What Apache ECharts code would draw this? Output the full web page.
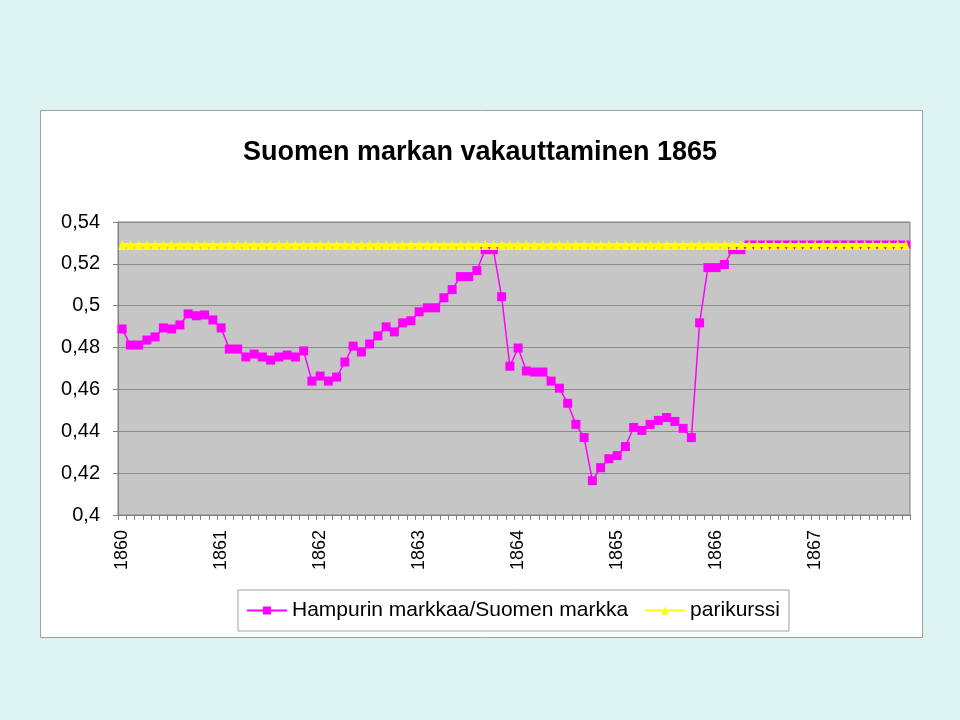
<!DOCTYPE html>
<html>
<head>
<meta charset="utf-8">
<script src="https://cdn.jsdelivr.net/npm/echarts@6/dist/echarts.min.js"></script>
<style>
html,body{margin:0;padding:0;background:#DDF3F0;}
#c{width:960px;height:720px;}
</style>
</head>
<body>
<div id="c"></div>
<script>
var years = ['1860','1861','1862','1863','1864','1865','1866','1867'];
var monthsPerYear = 12;

var hampuri = [
  0.4889,0.4812,0.4812,0.4836,0.4851,0.4894,0.4889,0.4908,0.4961,0.4952,0.4956,0.4932,
  0.4894,0.4793,0.4793,0.4755,0.4769,0.4755,0.4740,0.4755,0.4764,0.4755,0.4784,0.4640,
  0.4664,0.4640,0.4659,0.4731,0.4807,0.4779,0.4817,0.4856,0.4899,0.4875,0.4918,0.4928,
  0.4971,0.4990,0.4990,0.5038,0.5077,0.5139,0.5139,0.5168,0.5268,0.5268,0.5043,0.4711,
  0.4798,0.4688,0.4683,0.4683,0.4640,0.4606,0.4534,0.4433,0.4370,0.4164,0.4226,0.4269,
  0.4284,0.4327,0.4418,0.4404,0.4433,0.4452,0.4466,0.4447,0.4414,0.4370,0.4918,0.5182,
  0.5182,0.5197,0.5268,0.5268,0.529,0.529,0.529,0.529,0.529,0.529,0.529,0.529,
  0.529,0.529,0.529,0.529,0.529,0.529,0.529,0.529,0.529,0.529,0.529,0.529
];

var parikurssi = [
  0.529,0.529,0.529,0.529,0.529,0.529,0.529,0.529,0.529,0.529,0.529,0.529,
  0.529,0.529,0.529,0.529,0.529,0.529,0.529,0.529,0.529,0.529,0.529,0.529,
  0.529,0.529,0.529,0.529,0.529,0.529,0.529,0.529,0.529,0.529,0.529,0.529,
  0.529,0.529,0.529,0.529,0.529,0.529,0.529,0.529,0.529,0.529,0.529,0.529,
  0.529,0.529,0.529,0.529,0.529,0.529,0.529,0.529,0.529,0.529,0.529,0.529,
  0.529,0.529,0.529,0.529,0.529,0.529,0.529,0.529,0.529,0.529,0.529,0.529,
  0.529,0.529,0.529,0.529,0.529,0.529,0.529,0.529,0.529,0.529,0.529,0.529,
  0.529,0.529,0.529,0.529,0.529,0.529,0.529,0.529,0.529,0.529,0.529,0.529
];

var seriesNames = ['Hampurin markkaa/Suomen markka', 'parikurssi'];
var titleText = 'Suomen markan vakauttaminen 1865';

var categories = [];
years.forEach(function (y) {
  for (var m = 0; m < monthsPerYear; m++) categories.push(m === 0 ? y : '');
});

var chart = echarts.init(document.getElementById('c'), null, {renderer: 'canvas'});
var font = 'Liberation Sans, Arial, sans-serif';
chart.setOption({
  backgroundColor: '#DDF3F0',
  animation: false,
  graphic: [{
    type: 'rect', z: -10,
    shape: {x: 40.5, y: 110.5, width: 882, height: 527},
    style: {fill: '#ffffff', stroke: '#A0A0A0', lineWidth: 1}
  }],
  title: {
    text: titleText, left: 'center', top: 134,
    textStyle: {fontFamily: font, fontSize: 27, fontWeight: 'bold', color: '#000'}
  },
  legend: {
    left: 238, top: 590,
    backgroundColor: '#ffffff', borderColor: '#A0A0A0', borderWidth: 1,
    padding: [10, 9, 10, 8], itemGap: 16, itemWidth: 40, itemHeight: 10,
    textStyle: {fontFamily: font, fontSize: 21, color: '#000'},
    data: seriesNames
  },
  grid: {
    left: 118, right: 50, top: 222, bottom: 205,
    show: true, backgroundColor: '#C6C6C6', borderColor: '#808080', borderWidth: 1
  },
  xAxis: {
    type: 'category', data: categories, boundaryGap: true,
    axisLine: {show: true, lineStyle: {color: '#808080'}},
    axisTick: {show: true, interval: 0, length: 5, lineStyle: {color: '#808080'}},
    axisLabel: {
      interval: 0, rotate: 90, margin: 15,
      fontFamily: font, fontSize: 18, color: '#000'
    },
    splitLine: {show: false}
  },
  yAxis: {
    type: 'value', min: 0.4, max: 0.54, interval: 0.02,
    axisLine: {show: true, lineStyle: {color: '#808080'}},
    axisTick: {show: true, length: 5, lineStyle: {color: '#808080'}},
    axisLabel: {
      margin: 18, fontFamily: font, fontSize: 20, color: '#000',
      formatter: function (v) { return String(Number(v.toFixed(2))).replace('.', ','); }
    },
    splitLine: {show: true, lineStyle: {color: '#8C8C8C', width: 1}}
  },
  series: [{
    name: seriesNames[0], type: 'line', data: hampuri,
    symbol: 'rect', symbolSize: 9, showAllSymbol: true,
    lineStyle: {color: '#FF00FF', width: 1.5},
    itemStyle: {color: '#FF00FF'}, z: 2
  }, {
    name: seriesNames[1], type: 'line', data: parikurssi,
    symbol: 'triangle', symbolSize: [8, 10], showAllSymbol: true,
    lineStyle: {color: '#FFFF00', width: 4},
    itemStyle: {color: '#FFFF00'}, z: 3
  }]
});
</script>
</body>
</html>
